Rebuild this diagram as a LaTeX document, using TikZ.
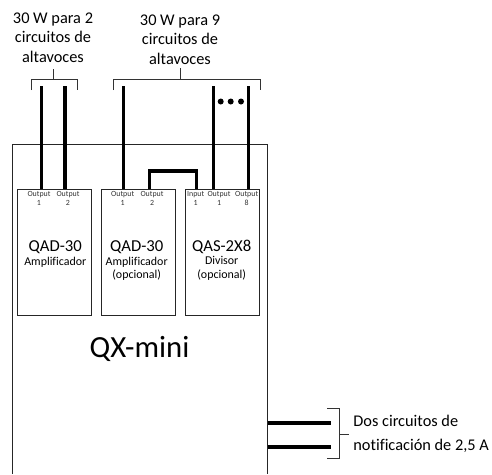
\documentclass[tikz,border=0pt]{standalone}
\usepackage{fontspec}
\setmainfont[Ligatures=NoCommon]{Carlito}
\tikzset{x=0.02cm,y=-0.02cm,
 thin line/.style={draw=black!85,line width=0.5pt},
 thick wire/.style={draw=black,line width=1.9pt},
 brace line/.style={draw=black!80,line width=0.5pt},
 module/.style={draw=black!85,line width=0.5pt,minimum width=1.5cm,minimum height=2.52cm,inner sep=0pt,anchor=north west},
 lab/.style={inner sep=0pt,align=center,font=\fontsize{9.3pt}{11.1pt}\selectfont},
 notelab/.style={inner sep=0pt,align=left,font=\fontsize{9.3pt}{13.6pt}\selectfont},
 port/.style={inner sep=0pt,align=center,text=black!80,font=\fontsize{4.5pt}{5pt}\selectfont},
 title/.style={inner sep=0pt,font=\fontsize{9.5pt}{11pt}\selectfont},
 sub/.style={inner sep=0pt,align=center,font=\fontsize{6.8pt}{7.6pt}\selectfont},
}
\begin{document}
\begin{tikzpicture}
\useasboundingbox (0,0) rectangle (492,474);
% chassis
\coordinate (cbl) at (12.5,474);
\coordinate (ctl) at (12.5,144);
\coordinate (ctr) at (267.5,144);
\coordinate (cbr) at (267.5,474);
\draw[thin line] (cbl) -- (ctl) -- (ctr) -- (cbr);
% modules
\node[module] (m1) at (16.5,189) {};
\node[module] (m2) at (100.5,189) {};
\node[module] (m3) at (184.5,189) {};
\node[title] (t1) at (55.3,247) {QAD-30};
\node[sub] (s1) at (55.3,262) {Amplificador};
\node[title] (t2) at (136.7,247) {QAD-30};
\node[sub] (s2) at (136.7,268.5) {Amplificador\\(opcional)};
\node[title] (t3) at (221.7,247) {QAS-2X8};
\node[sub] (s3) at (221.7,268.5) {Divisor\\(opcional)};
% ports
\node[port] (p11) at (39,198.5) {Output\\1};
\node[port] (p12) at (68,198.5) {Output\\2};
\node[port] (p21) at (122.7,198.5) {Output\\1};
\node[port] (p22) at (152,198.5) {Output\\2};
\node[port] (p30) at (195.7,198.5) {Input\\1};
\node[port] (p31) at (219,198.5) {Output\\1};
\node[port] (p32) at (246.7,198.5) {Output\\8};
% top terminals
\coordinate (a1) at (41.5,86);
\coordinate (a2) at (65,86);
\coordinate (a3) at (123.5,86);
\coordinate (a4) at (213.5,86);
\coordinate (a5) at (248.5,86);
\draw[thick wire] (a1) -- (41.5,189);
\draw[thick wire] (a2) -- (65,189);
\draw[thick wire] (a3) -- (123.5,189);
\draw[thick wire] (a4) -- (213.5,189);
\draw[thick wire] (a5) -- (248.5,189);
\draw[thick wire] (149.5,189) -- (149.5,171) -- (196.5,171) -- (196.5,189);
% dots
\fill (220.7,101.5) circle (3);
\fill (230.7,101.5) circle (3);
\fill (241,101.5) circle (3);
% braces
\node[lab] (l1) at (53,37.5) {30 W para 2\\circuitos de\\altavoces};
\node[lab] (l2) at (180,39.5) {30 W para 9\\circuitos de\\altavoces};
\draw[brace line] (31.5,90) -- (31.5,79) -- (77.5,79) -- (77.5,90);
\draw[brace line] (53.5,79) -- (53.5,69);
\draw[brace line] (113,90) -- (113,79) -- (260,79) -- (260,90);
\draw[brace line] (180.5,79) -- (180.5,68);
% notification
\coordinate (n1) at (331,423);
\coordinate (n2) at (331,447);
\draw[thick wire] (267.5,423) -- (n1);
\draw[thick wire] (267.5,447) -- (n2);
\draw[brace line] (327,408.5) -- (339,408.5) -- (339,458.5) -- (327,458.5);
\draw[brace line] (339,434) -- (349,434);
\node[notelab,anchor=west] (l3) at (353,434) {Dos circuitos de\\notificación de 2,5 A};
\node[inner sep=0pt,font=\fontsize{17.5pt}{20pt}\selectfont] (q) at (139.5,349) {QX-mini};
\end{tikzpicture}
\end{document}
